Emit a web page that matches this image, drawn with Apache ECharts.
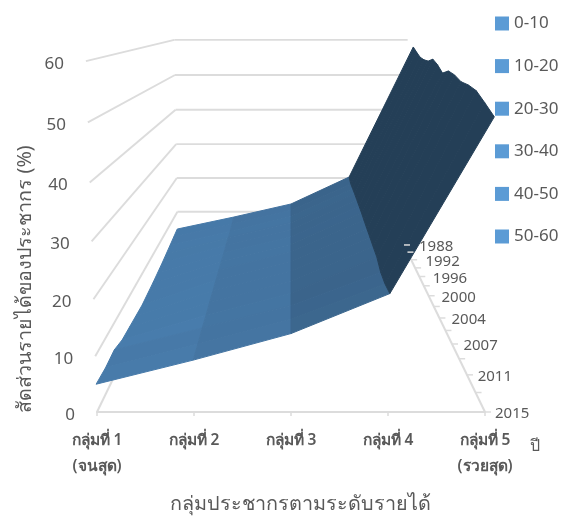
<!DOCTYPE html>
<html><head><meta charset="utf-8">
<style>html,body{margin:0;padding:0;background:#fff}#c{width:562px;height:517px}</style>
<script src="https://cdn.jsdelivr.net/npm/echarts@6/dist/echarts.min.js"></script>
</head><body><div id="c"></div>
<script>
const groupLabels = ['กลุ่มที่ 1\n(จนสุด)','กลุ่มที่ 2','กลุ่มที่ 3','กลุ่มที่ 4','กลุ่มที่ 5\n(รวยสุด)'];
const years = [1988,1990,1992,1994,1996,1998,2000,2002,2004,2006,2007,2009,2011,2013,2015];
const labelledYears = [1988,1992,1996,2000,2004,2007,2011,2015];
const valueTicks = [0,10,20,30,40,50,60];
const bands = ['0-10','10-20','20-30','30-40','40-50','50-60'];
const group1 = [4.8,4.5,4.2,3.9,3.6,3.4,3.2,3.1,3.0,3.3,3.6,3.9,4.9,4.7,5.0];
const group2 = [8.4,8.2,8.1,8.3,8.4,8.5,8.6,8.7,8.8,8.9,9.0,9.0,9.2,9.1,9.3];
const group3 = [12.3,12.2,12.2,12.4,12.5,12.6,12.8,13.0,13.1,13.2,13.3,13.4,13.6,13.7,14.0];
const group4 = [20.3,19.8,20.0,20.2,20.3,20.4,20.5,20.5,20.5,20.6,20.6,20.7,20.0,20.2,21.0];
const group5 = [58.0,56.9,55.9,55.6,55.7,56.6,55.7,54.3,55.3,55.0,54.2,54.2,53.8,52.4,50.9];
const surface = [group1,group2,group3,group4,group5];

const FF = '"Noto Sans","Open Sans",sans-serif';
const TXT = '#595959', GRID = '#DCDCDC';
const cellColors = [[71,122,169],[68,116,161],[59,101,140],[36,63,87]];
const VP_V = 68.57;
function project(x, z, v, spread){
  const w = 1 + 0.717*z - 0.0009*v;
  const s = 1 + (spread||0)*v*z;
  return [2 + (x-2)*s/w, VP_V - (VP_V - 1.0102*v)/w];
}
const zOf = i => 1 - i/(years.length-1);

const chart = echarts.init(document.getElementById('c'), null, {renderer:'canvas'});
const oneShot = fn => ({type:'custom', coordinateSystem:'cartesian2d', clip:false, silent:true, data:[[0,0]], renderItem:fn, tooltip:{show:false}});
function line(api, a, b, width){
  const p = api.coord(a), q = api.coord(b);
  return {type:'line', shape:{x1:p[0],y1:p[1],x2:q[0],y2:q[1]}, style:{stroke:GRID, lineWidth:width||1.9}};
}
const wallSeries = Object.assign(oneShot((params, api) => {
  const ch = [];
  valueTicks.forEach(v => {
    if (v > 0) {
      ch.push(line(api, project(0,0,v), project(0,1,v)));
      ch.push(line(api, project(0,1,v), project(4,1,v)));
    }
    const p = api.coord(project(0,0,v));
    ch.push({type:'text', x:p[0]-22, y:p[1]+3, style:{text:String(v), fill:TXT, font:'17px '+FF, textAlign:'right', textVerticalAlign:'middle'}});
  });
  ch.push(line(api, project(0,0,0), project(0,1,0), 2));
  ch.push(line(api, project(4,0,0), project(4,1,0), 2));
  return {type:'group', children:ch};
}), {z:2});

const cells = [];
for (let y=0; y<years.length-1; y++) for (let g=0; g<4; g++) cells.push([g,y]);
const surfaceSeries = {
  type:'custom', coordinateSystem:'cartesian2d', clip:false, silent:true, z:3, data:cells,
  renderItem:(params, api) => {
    const g = api.value(0), y = api.value(1);
    const pts = [[g,y],[g+1,y],[g+1,y+1],[g,y+1]].map(c => api.coord(project(c[0], zOf(c[1]), surface[c[0]][c[1]], 0.00085)));
    const dv = ((surface[g][y+1]-surface[g][y]) + (surface[g+1][y+1]-surface[g+1][y]))/2;
    const k = g===3 ? 1 : Math.max(0.97, Math.min(1.03, 1 + 0.03*dv));
    const c = cellColors[g].map(n => Math.round(n*k));
    const col = 'rgb('+c.join(',')+')';
    return {type:'polygon', shape:{points:pts}, style:{fill:col, stroke:col, lineWidth:1}};
  }
};
const depthSeries = Object.assign(oneShot((params, api) => {
  const ch = [];
  years.forEach((yr,i) => {
    const z = zOf(i), p = api.coord(project(4,z,0));
    ch.push({type:'line', shape:{x1:p[0],y1:p[1],x2:p[0]+6,y2:p[1]}, style:{stroke:GRID, lineWidth:1.5}});
    if (labelledYears.includes(yr)) {
      ch.push({type:'text', x:p[0]+10+5*z, y:p[1]+2, style:{text:String(yr), fill:TXT, font:'15px '+FF, textAlign:'left', textVerticalAlign:'middle'}});
    }
  });
  return {type:'group', children:ch};
}), {z:4});
const legendSeries = bands.map(b => ({type:'custom', name:b, coordinateSystem:'cartesian2d', data:[], renderItem:()=>null, itemStyle:{color:'#5B9BD5'}}));

chart.setOption({
  animation:false, backgroundColor:'#fff',
  grid:{left:97, right:77, top:62, bottom:105, containLabel:false},
  xAxis:{type:'value', min:0, max:4, interval:1, splitLine:{show:false},
    axisLine:{lineStyle:{color:GRID,width:2}}, axisTick:{length:4,lineStyle:{color:GRID,width:1.5}},
    axisLabel:{formatter:v => groupLabels[v], color:TXT, fontFamily:FF, fontSize:15.5, fontWeight:600, lineHeight:26, margin:16, showMinLabel:true, showMaxLabel:true, hideOverlap:false}},
  yAxis:{type:'value', min:0, max:60, show:false},
  legend:{orient:'vertical', left:495, top:15, padding:0, itemWidth:14, itemHeight:14, itemGap:25.6, icon:'rect', selectedMode:false,
    textStyle:{color:TXT, fontFamily:FF, fontSize:17, lineHeight:14}, data:bands},
  graphic:[
    {type:'text', left:170, top:494, style:{text:'กลุ่มประชากรตามระดับรายได้', fill:TXT, font:'19.8px '+FF}},
    {type:'text', x:25, y:279, rotation:Math.PI/2, style:{text:'สัดส่วนรายได้ของประชากร (%)', fill:TXT, font:'19.7px '+FF, textAlign:'center', textVerticalAlign:'middle'}},
    {type:'text', left:530, top:438, style:{text:'ปี', fill:TXT, font:'16px '+FF}}
  ],
  series:[wallSeries, surfaceSeries, depthSeries].concat(legendSeries)
});
</script></body></html>
